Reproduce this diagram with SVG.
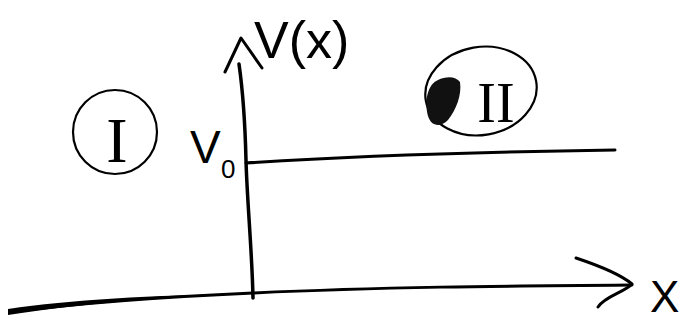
<svg xmlns="http://www.w3.org/2000/svg" width="689" height="320" viewBox="0 0 689 320">
<style>
.ln{fill:none;stroke:#000;stroke-linecap:round;stroke-linejoin:round}
.t{font-family:"Liberation Sans",Arial,sans-serif;fill:#000}
.r{font-family:"Liberation Serif","Times New Roman",serif;fill:#000}
</style>
<rect width="689" height="320" fill="#fff"/>
<g id="connectors">
  <path class="ln" stroke-width="3.5" d="M253,298 C252,250 247,200 246,160 C245,120 242,85 239,64"/>
  <path class="ln" stroke-width="3" d="M225,72 L241,38 L262,68"/>
  <path class="ln" stroke-width="3" d="M10,312 C80,303 160,297 253,293 C380,287 500,286 632,285"/>
  <path fill="#000" d="M8,315 C70,305 150,298 250,294 C150,295 70,300 8,309 Z"/>
  <path class="ln" stroke-width="3" d="M576,258 C600,266 620,274 632,284 C625,292 605,296 598,307"/>
  <path class="ln" stroke-width="3" d="M246,163 C340,157 480,152 615,150"/>
</g>
<g id="axis-label-v">
  <text class="t" x="254" y="58" font-size="52">V(x)</text>
</g>
<g id="label-v0">
  <text class="t" x="190" y="163" font-size="46">V</text>
  <text class="t" x="221" y="178" font-size="26">0</text>
</g>
<g id="region-1">
  <ellipse class="ln" stroke-width="2.2" cx="115" cy="132" rx="42" ry="42"/>
  <text class="r" x="117" y="162" font-size="64" text-anchor="middle">I</text>
</g>
<g id="region-2">
  <ellipse class="ln" stroke-width="2.2" cx="481" cy="91" rx="56" ry="44" transform="rotate(-10 481 91)"/>
  <path fill="#111" d="M438,80 C428,84 424,100 428,116 C431,126 440,128 448,120 C456,110 462,95 460,82 C456,76 446,76 438,80 Z"/>
  <text class="r" x="496" y="122" font-size="56" text-anchor="middle">II</text>
</g>
<g id="axis-label-x">
  <text class="t" x="650" y="312" font-size="44">X</text>
</g>
</svg>
